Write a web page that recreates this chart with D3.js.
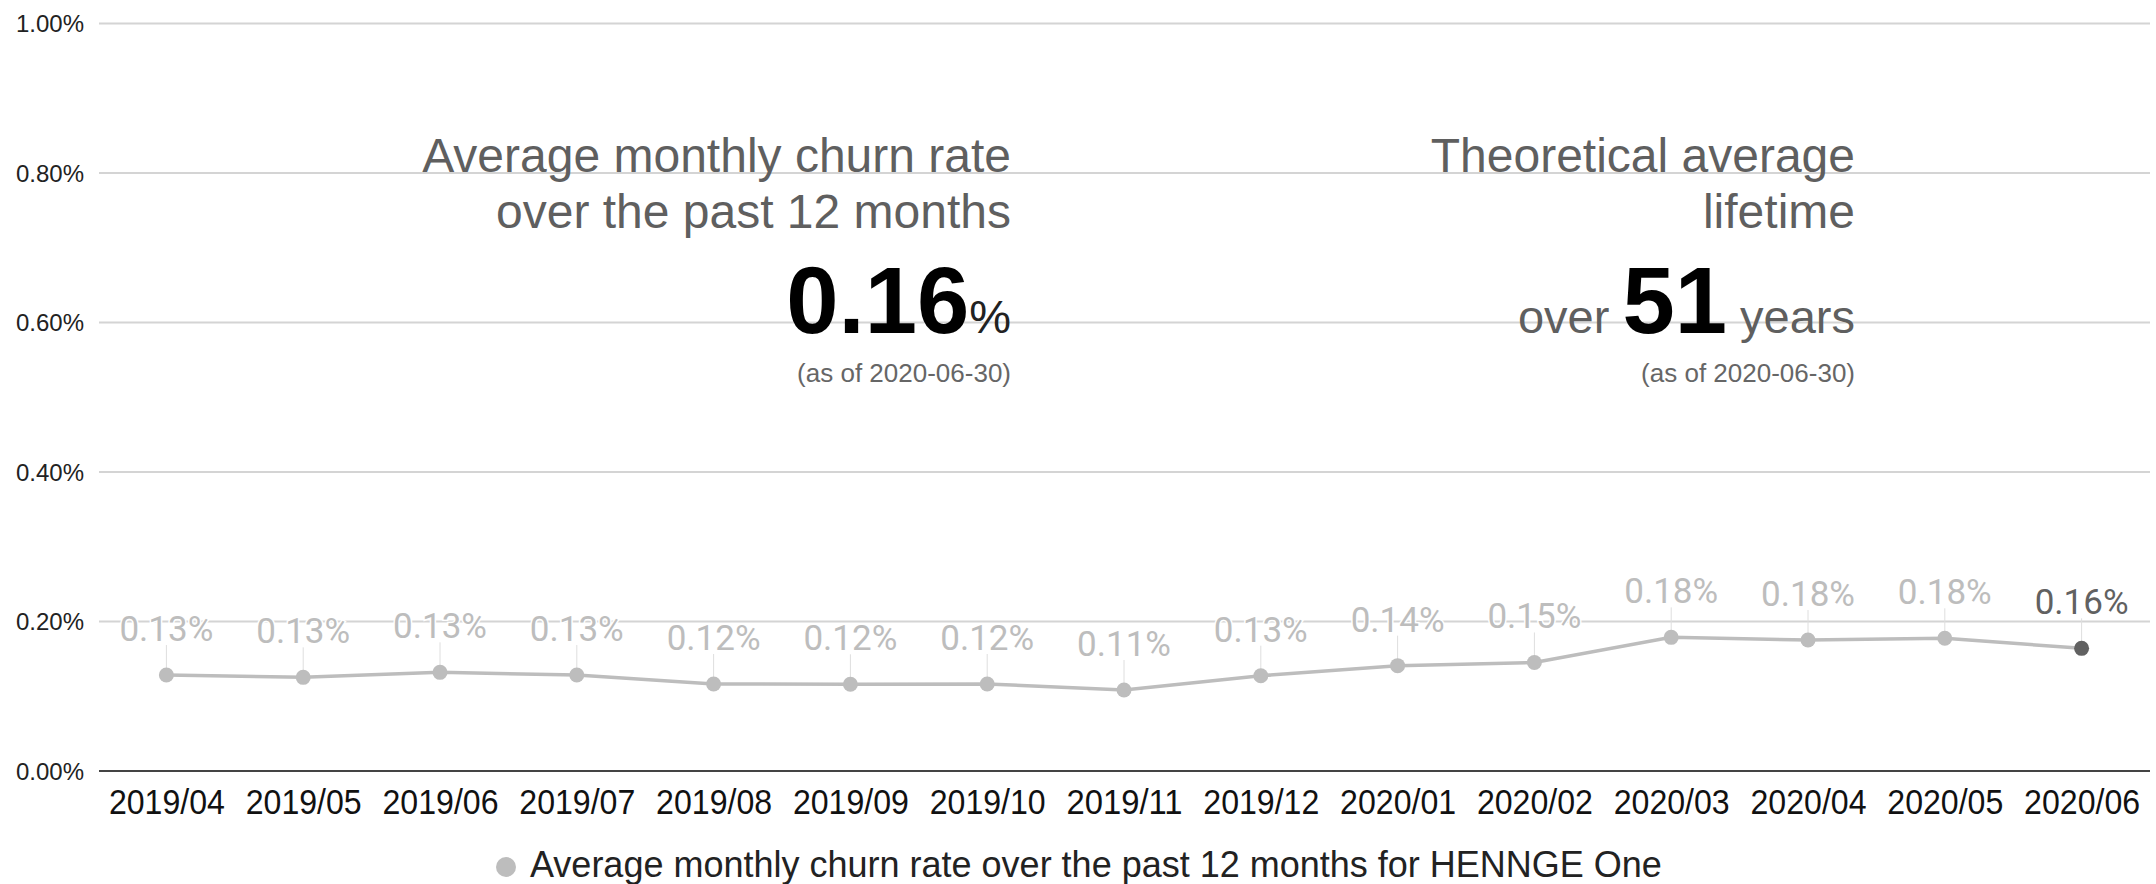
<!DOCTYPE html>
<html>
<head>
<meta charset="utf-8">
<script src="https://cdn.jsdelivr.net/npm/d3@7"></script>
<style>
  html, body { margin: 0; padding: 0; background: #fff; }
  svg { display: block; }
</style>
</head>
<body>
<svg id="chart" width="2156" height="884"></svg>
<script>
// Monthly categories (x axis)
const months = ["2019/04", "2019/05", "2019/06", "2019/07", "2019/08", "2019/09", "2019/10",
                "2019/11", "2019/12", "2020/01", "2020/02", "2020/03", "2020/04", "2020/05", "2020/06"];

// Average monthly churn rate over the past 12 months (%)
const churnRate = [0.1284, 0.1253, 0.1320, 0.1284, 0.1164, 0.1160, 0.1164,
                   0.1084, 0.1275, 0.1409, 0.1452, 0.1788, 0.1752, 0.1775, 0.1641];

// Y axis ticks (%)
const yTicks = [0, 0.2, 0.4, 0.6, 0.8, 1.0];

const seriesName = "Average monthly churn rate over the past 12 months for HENNGE One";
const asOfText = "(as of 2020-06-30)";
const lifetimeYears = 51;

const svg = d3.select("#chart");
const sansFont = "'Liberation Sans', Arial, Helvetica, sans-serif";

const x = d3.scalePoint().domain(months).range([98, 2150]).padding(0.5);
const y = d3.scaleLinear().domain([0, 1]).range([771, 23.5]);

// Gridlines
svg.append("g")
  .selectAll("line")
  .data(yTicks.filter(d => d > 0))
  .join("line")
  .attr("x1", 99).attr("x2", 2150)
  .attr("y1", d => y(d)).attr("y2", d => y(d))
  .attr("stroke", "#d4d4d4").attr("stroke-width", 2);

// Y axis labels
const yAxis = d3.axisLeft(y).tickValues(yTicks).tickSize(0).tickPadding(0)
  .tickFormat(d => d3.format(".2f")(d) + "%");
const gy = svg.append("g").attr("transform", "translate(84,0)").call(yAxis);
gy.select(".domain").remove();
gy.selectAll("text")
  .attr("font-family", sansFont).attr("font-size", 24).attr("fill", "#222")
  .attr("dy", "0.35em");

// Baseline
svg.append("line")
  .attr("x1", 99).attr("x2", 2150)
  .attr("y1", y(0)).attr("y2", y(0))
  .attr("stroke", "#444").attr("stroke-width", 2);

// X axis labels (slightly condensed)
const xAxis = d3.axisBottom(x).tickSize(0).tickPadding(0);
const gx = svg.append("g").attr("transform", "translate(0,814)").call(xAxis);
gx.select(".domain").remove();
gx.selectAll("text")
  .attr("font-family", sansFont).attr("font-size", 35).attr("fill", "#111")
  .attr("dy", 0).attr("y", 0)
  .attr("textLength", 116).attr("lengthAdjust", "spacingAndGlyphs");

// Headline annotations
function headline(rightX, lines) {
  const g = svg.append("g").attr("font-family", sansFont).attr("text-anchor", "end");
  lines.forEach(l => {
    const t = g.append("text").attr("x", rightX).attr("y", l.y);
    l.parts.forEach(p => {
      t.append("tspan")
        .attr("font-size", p.size)
        .attr("font-weight", p.bold ? "bold" : "normal")
        .attr("fill", p.color)
        .text(p.text);
    });
  });
}

const latest = churnRate[churnRate.length - 1];
headline(1011, [
  { y: 172, parts: [{ text: "Average monthly churn rate", size: 48, color: "#5f5f5f" }] },
  { y: 228, parts: [{ text: "over the past 12 months", size: 48, color: "#5f5f5f" }] },
  { y: 333, parts: [{ text: d3.format(".2f")(latest), size: 94, bold: true, color: "#000" },
                    { text: "%", size: 47, color: "#222" }] },
  { y: 382, parts: [{ text: asOfText, size: 26, color: "#666" }] }
]);

headline(1855, [
  { y: 172, parts: [{ text: "Theoretical average", size: 48, color: "#5f5f5f" }] },
  { y: 228, parts: [{ text: "lifetime", size: 48, color: "#5f5f5f" }] },
  { y: 333, parts: [{ text: "over ", size: 47, color: "#5f5f5f" },
                    { text: String(lifetimeYears), size: 94, bold: true, color: "#000" },
                    { text: " years", size: 47, color: "#5f5f5f" }] },
  { y: 382, parts: [{ text: asOfText, size: 26, color: "#666" }] }
]);

// Series line
const last = months.length - 1;
const line = d3.line().x((d, i) => x(months[i])).y(d => y(d));
svg.append("path")
  .datum(churnRate)
  .attr("d", line)
  .attr("fill", "none")
  .attr("stroke", "#bdbdbd")
  .attr("stroke-width", 3.5);

// Annotation leader lines
svg.append("g")
  .selectAll("line")
  .data(churnRate)
  .join("line")
  .attr("x1", (d, i) => x(months[i])).attr("x2", (d, i) => x(months[i]))
  .attr("y1", d => y(d) - 30).attr("y2", d => y(d))
  .attr("stroke", "#dedede").attr("stroke-width", 1);

// Points
svg.append("g")
  .selectAll("circle")
  .data(churnRate)
  .join("circle")
  .attr("cx", (d, i) => x(months[i]))
  .attr("cy", d => y(d))
  .attr("r", 7.5)
  .attr("fill", (d, i) => i === last ? "#616161" : "#bdbdbd");

// Value labels
svg.append("g")
  .selectAll("text")
  .data(churnRate)
  .join("text")
  .attr("x", (d, i) => x(months[i]))
  .attr("y", d => y(d) - 34)
  .attr("text-anchor", "middle")
  .attr("font-family", "Roboto, 'Noto Sans', sans-serif")
  .attr("font-size", 35)
  .attr("fill", (d, i) => i === last ? "#616161" : "#bdbdbd")
  .attr("stroke", "#fff").attr("stroke-width", 3).attr("paint-order", "stroke")
  .text(d => d3.format(".2f")(d) + "%");

// Legend
const legend = svg.append("g");
legend.append("circle").attr("cx", 506).attr("cy", 867).attr("r", 10).attr("fill", "#bdbdbd");
legend.append("text")
  .attr("x", 530).attr("y", 877)
  .attr("font-family", sansFont).attr("font-size", 36).attr("fill", "#222")
  .text(seriesName);
</script>
</body>
</html>
